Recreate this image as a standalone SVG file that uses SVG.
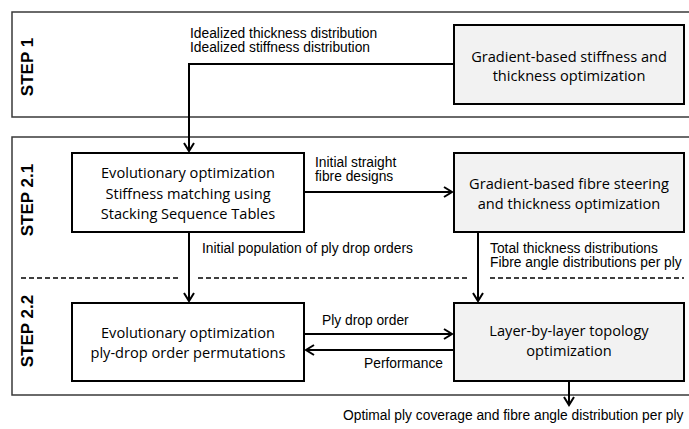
<svg xmlns="http://www.w3.org/2000/svg" width="689" height="429" viewBox="0 0 689 429">
<defs>
<style>
.panel{fill:none;stroke:#3a3a3a;stroke-width:1.5}
.box{stroke:#000;stroke-width:2}
.grey{fill:#f2f2f2}
.white{fill:#fff}
.bt{font-family:"Open Sans","Liberation Sans",sans-serif;font-size:14.6px;fill:#000;text-anchor:middle}
.lb{font-family:"Liberation Sans",Arial,sans-serif;font-size:13.8px;fill:#000}
.step{font-family:"Liberation Sans",Arial,sans-serif;font-size:17px;font-weight:bold;fill:#000;text-anchor:middle}
.con{fill:none;stroke:#000;stroke-width:2}
.dash{fill:none;stroke:#000;stroke-width:1.4;stroke-dasharray:5,3}
</style>
<marker id="arr" markerUnits="userSpaceOnUse" markerWidth="14" markerHeight="14" refX="9" refY="6" orient="auto" viewBox="0 0 14 14">
<path d="M1,1 L9,6 L1,11" fill="none" stroke="#000" stroke-width="2"/>
</marker>
</defs>
<rect width="689" height="429" fill="#fff"/>
<g id="panels">
<path class="panel" d="M700,12 H12 V117 H700"/>
<path class="panel" d="M700,137 H12 V395 H700"/>
<path class="dash" d="M21,278 H180 M198,278 H468 M490,278 H684"/>
<text class="step" transform="translate(33,67) rotate(-90)">STEP 1</text>
<text class="step" transform="translate(33,200) rotate(-90)">STEP 2.1</text>
<text class="step" transform="translate(33,331) rotate(-90)">STEP 2.2</text>
</g>
<g id="connectors">
<path class="con" d="M454,64 H189 V151" marker-end="url(#arr)"/>
<path class="con" d="M304,192 H452" marker-end="url(#arr)"/>
<path class="con" d="M189,232 V301" marker-end="url(#arr)"/>
<path class="con" d="M478,232 V301" marker-end="url(#arr)"/>
<path class="con" d="M304,334 H452" marker-end="url(#arr)"/>
<path class="con" d="M454,350 H306" marker-end="url(#arr)"/>
<path class="con" d="M569,381 V405" marker-end="url(#arr)"/>
<text class="lb" x="190" y="38">Idealized thickness distribution</text>
<text class="lb" x="190" y="52">Idealized stiffness distribution</text>
<text class="lb" x="315" y="167">Initial straight</text>
<text class="lb" x="315" y="181">fibre designs</text>
<text class="lb" x="202" y="253">Initial population of ply drop orders</text>
<text class="lb" x="490" y="253">Total thickness distributions</text>
<text class="lb" x="490" y="267">Fibre angle distributions per ply</text>
<text class="lb" x="322" y="325">Ply drop order</text>
<text class="lb" x="443" y="368" text-anchor="end">Performance</text>
<text class="lb" x="343" y="420">Optimal ply coverage and fibre angle distribution per ply</text>
</g>
<g id="step1-gradient">
<rect class="box grey" x="454" y="25" width="230" height="79"/>
<text class="bt" x="569" y="62">Gradient-based stiffness and</text>
<text class="bt" x="569" y="81">thickness optimization</text>
</g>
<g id="evo-stiffness">
<rect class="box white" x="72" y="153" width="232" height="79"/>
<text class="bt" x="188" y="178">Evolutionary optimization</text>
<text class="bt" x="188" y="199">Stiffness matching using</text>
<text class="bt" x="188" y="219">Stacking Sequence Tables</text>
</g>
<g id="gradient-fibre">
<rect class="box grey" x="454" y="153" width="230" height="79"/>
<text class="bt" x="569" y="189">Gradient-based fibre steering</text>
<text class="bt" x="569" y="209">and thickness optimization</text>
</g>
<g id="evo-plydrop">
<rect class="box white" x="72" y="303" width="232" height="78"/>
<text class="bt" x="188" y="338">Evolutionary optimization</text>
<text class="bt" x="188" y="358">ply-drop order permutations</text>
</g>
<g id="layer-topology">
<rect class="box grey" x="454" y="303" width="230" height="78"/>
<text class="bt" x="569" y="336">Layer-by-layer topology</text>
<text class="bt" x="569" y="356">optimization</text>
</g>
</svg>
